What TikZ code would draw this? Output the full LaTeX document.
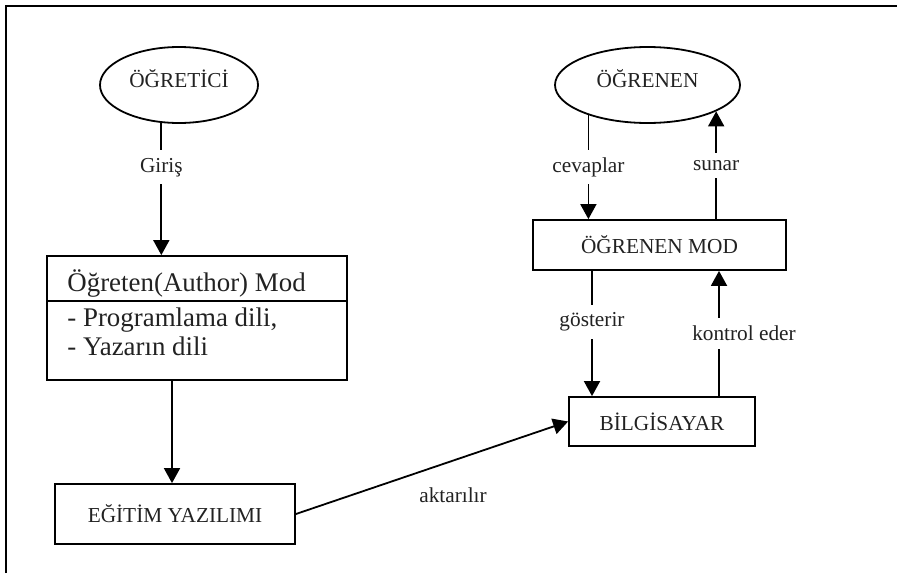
\documentclass[tikz,border=0pt]{standalone}
\usepackage{fontspec}
\setmainfont{Liberation Serif}
\usetikzlibrary{arrows.meta,shapes.geometric}
\definecolor{txt}{HTML}{222222}
\begin{document}
\begin{tikzpicture}[x=0.5pt,y=-0.5pt,
  every node/.style={text=txt, font=\fontsize{10.65pt}{12pt}\selectfont},
  ell/.style={draw=black, ellipse, line width=0.9pt, minimum height=38pt, inner sep=0pt, text depth=0.7em},
  box/.style={draw=black, rectangle, line width=0.9pt, inner sep=0pt},
  afont/.style={font=\fontsize{13.45pt}{15pt}\selectfont, inner sep=0pt, anchor=base west},
  arr/.style={line width=0.9pt, -{Triangle[length=7.5pt,width=8pt]}},
  lab/.style={fill=white, inner xsep=2pt, inner ysep=3.8pt}
]
\useasboundingbox (0,0) rectangle (897,573);
% frame
\coordinate (fa) at (6,573);
\coordinate (fb) at (6,6);
\coordinate (fc) at (897,6);
\draw[line width=1pt] (fa) -- (fb) -- (fc);
% nodes
\node[ell, minimum width=79pt] (ogt) at (179,85) {ÖĞRETİCİ};
\node[ell, minimum width=92.5pt] (ogn) at (647.5,85) {ÖĞRENEN};
\node[box, minimum width=126.5pt, minimum height=25pt] (mod) at (659.5,245) {ÖĞRENEN MOD};
\node[box, minimum width=93pt, minimum height=24.5pt] (bil) at (662,421.5) {BİLGİSAYAR};
\node[box, minimum width=120pt, minimum height=30pt] (egt) at (175,514) {EĞİTİM YAZILIMI};
\node[box, minimum width=150pt, minimum height=62pt] (auth) at (197,318) {};
\coordinate (dv) at (0,301);
\draw[line width=0.9pt] (auth.west |- dv) -- (auth.east |- dv);
\node[afont] (a1) at (67,291) {Öğreten(Author) Mod};
\node[afont] (a2) at (67,326) {- Programlama dili,};
\node[afont] (a3) at (67,355) {- Yazarın dili};
% connectors
\coordinate (xa) at (172,0);
\coordinate (xs) at (592,0);
\coordinate (xk) at (719,0);
\draw[arr] (ogt.-115.9) -- (ogt.-115.9 |- auth.north) node[lab, pos=0.336] {Giriş};
\draw[arr] (auth.south -| xa) -- (egt.north -| xa);
\draw[arr] (egt.east) -- (bil.west) node[pos=0.5, xshift=10.5pt, yshift=-13.5pt] {aktarılır};
\draw[arr] (ogn.-153.3) -- (ogn.-153.3 |- mod.north) node[lab, midway] {cevaplar};
\draw[arr] (mod.north -| ogn.-21.7) -- (ogn.-21.7) node[lab, midway] {sunar};
\draw[arr] (mod.south -| xs) -- (bil.north -| xs) node[lab, pos=0.41] {gösterir};
\draw[arr] (bil.north -| xk) -- (mod.south -| xk) node[lab, midway, xshift=12.5pt] {kontrol eder};
\end{tikzpicture}
\end{document}
